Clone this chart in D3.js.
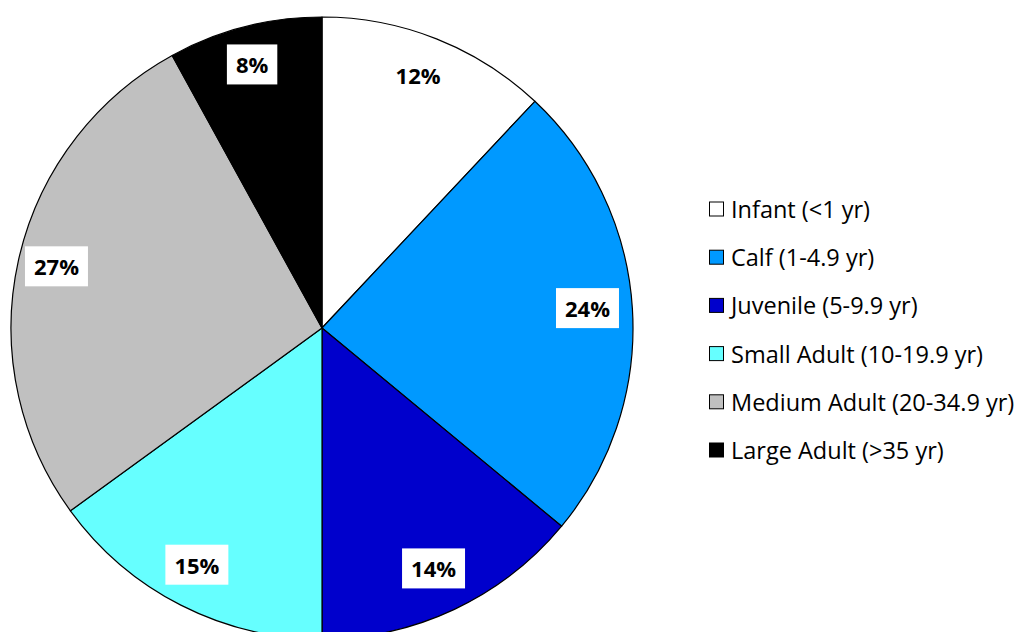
<!DOCTYPE html>
<html>
<head>
<meta charset="utf-8">
<script src="https://cdn.jsdelivr.net/npm/d3@7"></script>
<style>
  html, body { margin: 0; padding: 0; background: #fff; }
  svg { display: block; }
</style>
</head>
<body>
<svg id="chart" width="1022" height="632"></svg>
<script>
// Age class composition
const categories = ["Infant (<1 yr)", "Calf (1-4.9 yr)", "Juvenile (5-9.9 yr)",
                    "Small Adult (10-19.9 yr)", "Medium Adult (20-34.9 yr)", "Large Adult (>35 yr)"];
const shares = [12, 24, 14, 15, 27, 8];
const colors = ["#FFFFFF", "#0099FF", "#0000CC", "#66FFFF", "#C0C0C0", "#000000"];

const svg = d3.select("#chart");
const cx = 322, cy = 328, radius = 311;

const data = categories.map((c, i) => ({ name: c, value: shares[i], color: colors[i] }));

const pie = d3.pie().value(d => d.value).sort(null);
const arcs = pie(data);
const arc = d3.arc().innerRadius(0).outerRadius(radius);
const labelArc = d3.arc().innerRadius(radius * 0.865).outerRadius(radius * 0.865);

const g = svg.append("g").attr("transform", `translate(${cx},${cy})`);

g.selectAll("path.slice")
  .data(arcs)
  .join("path")
  .attr("class", "slice")
  .attr("d", arc)
  .attr("fill", d => d.data.color)
  .attr("stroke", "#000")
  .attr("stroke-width", 1.2)
  .attr("stroke-linejoin", "round");

// Percentage labels in white boxes
const labelFont = "'Open Sans', sans-serif";
const lbl = g.selectAll("g.lbl")
  .data(arcs)
  .join("g")
  .attr("class", "lbl")
  .attr("transform", d => {
    const [x, y] = labelArc.centroid(d);
    return `translate(${x - 3},${y - 3})`;
  });

lbl.each(function(d) {
  const sel = d3.select(this);
  const t = sel.append("text")
    .attr("text-anchor", "middle")
    .attr("dominant-baseline", "central")
    .attr("font-family", labelFont)
    .attr("font-weight", "bold")
    .attr("font-size", 22)
    .attr("fill", "#000")
    .text(d.data.value + "%");
  const w = t.node().getComputedTextLength();
  sel.insert("rect", "text")
    .attr("x", -w / 2 - 9)
    .attr("y", -20)
    .attr("width", w + 18)
    .attr("height", 40)
    .attr("fill", "#fff");
});

// Legend
const legendX = 709, legendY0 = 209, legendStep = 48.2, sw = 14;
const legend = svg.append("g");
const item = legend.selectAll("g")
  .data(data)
  .join("g")
  .attr("transform", (d, i) => `translate(${legendX},${legendY0 + i * legendStep})`);

item.append("rect")
  .attr("x", 0.5)
  .attr("y", -sw / 2)
  .attr("width", sw)
  .attr("height", sw)
  .attr("fill", d => d.color)
  .attr("stroke", "#000")
  .attr("stroke-width", 1);

item.append("text")
  .attr("x", 22)
  .attr("y", 0)
  .attr("dominant-baseline", "central")
  .attr("font-family", labelFont)
  .attr("font-size", 23.5)
  .attr("fill", "#000")
  .text(d => d.name);
</script>
</body>
</html>
